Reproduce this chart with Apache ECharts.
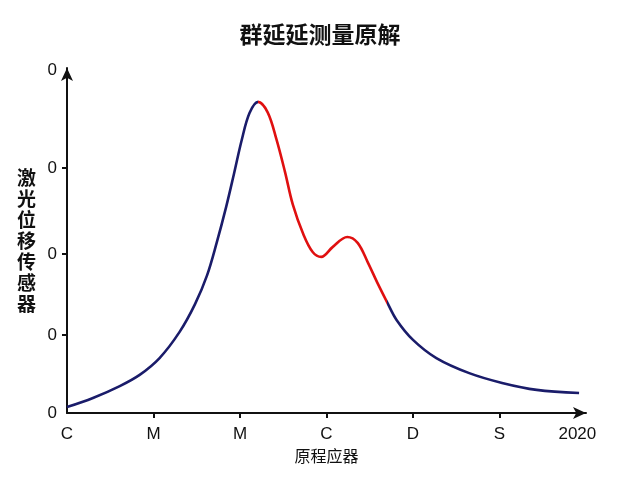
<!DOCTYPE html>
<html>
<head>
<meta charset="utf-8">
<script src="https://cdn.jsdelivr.net/npm/echarts@6/dist/echarts.min.js"></script>
<style>html,body{margin:0;padding:0;background:#fff;}#c{width:640px;height:480px;}</style>
</head>
<body>
<div id="c"></div>
<script>
var titleText = '群延延测量原解';
var yName = '激光位移传感器';
var xName = '原程应器';
var xCategories = ['C', 'M', 'M', 'C', 'D', 'S', '2020'];
var xLabelPositions = [0, 1, 2, 3, 4, 5, 5.9];
var xTickPositions = [1, 2, 3, 4, 5];
var yLabelPositions = [0, 22.3, 45.4, 70, 98];
var yTickPositions = [22.3, 45.4, 70];
var yTickLabel = '0';
var xs = [0, 0.30, 0.61, 0.84, 1.07, 1.30, 1.48, 1.62, 1.73, 1.84, 1.93, 2.02, 2.11, 2.21,
          2.32, 2.42, 2.52, 2.61, 2.73, 2.84, 2.94, 3.07, 3.24, 3.36, 3.48, 3.59, 3.70,
          3.81, 4.0, 4.27, 4.65, 5.03, 5.43, 5.92];
var ys = [1.7, 4.3, 7.7, 10.9, 15.7, 23.1, 31.1, 39.4, 48.6, 58.9, 68.3, 78.0, 85.7, 88.9,
          85.9, 78.3, 68.9, 59.6, 51.2, 46.0, 44.6, 47.4, 50.3, 48.6, 42.9, 37.1, 31.7,
          26.6, 20.9, 15.7, 11.4, 8.6, 6.6, 5.7];
var redStart = 2.21, redEnd = 3.70;

var data = xs.map(function (x, i) { return [x, ys[i]]; });
var navy = '#1a1c6a', red = '#e01010';
var chart = echarts.init(document.getElementById('c'));
chart.setOption({
  animation: false,
  backgroundColor: '#fff',
  title: {
    text: titleText, left: 'center', top: 18,
    textStyle: { fontSize: 23, fontWeight: 'bold', color: '#111', fontFamily: 'Noto Sans CJK SC' }
  },
  grid: { left: 67, right: 54, top: 68, bottom: 67 },
  xAxis: {
    type: 'value', min: 0, max: 6,
    name: xName, nameLocation: 'middle', nameGap: 34,
    nameTextStyle: { fontSize: 16, color: '#111', fontFamily: 'Noto Sans CJK SC' },
    splitLine: { show: false },
    axisLine: { show: true, lineStyle: { color: '#111', width: 2 }, symbol: ['none', 'arrow'], symbolSize: [9, 13] },
    axisTick: { show: true, customValues: xTickPositions, length: 5, lineStyle: { color: '#111', width: 2 } },
    axisLabel: {
      customValues: xLabelPositions, margin: 13,
      fontSize: 17, color: '#111', fontFamily: 'Liberation Sans',
      formatter: function (v) { return xCategories[Math.round(v)]; }
    }
  },
  yAxis: {
    type: 'value', min: 0, max: 98.57,
    name: yName.split('').join('\n'), nameLocation: 'middle', nameRotate: 0, nameGap: 31,
    nameTextStyle: { fontSize: 19, lineHeight: 21, fontWeight: 'bold', color: '#111', fontFamily: 'Noto Sans CJK SC' },
    splitLine: { show: false },
    axisLine: { show: true, lineStyle: { color: '#111', width: 2 }, symbol: ['none', 'arrow'], symbolSize: [9, 13] },
    axisTick: { show: true, customValues: yTickPositions, length: 5, lineStyle: { color: '#111', width: 2 } },
    axisLabel: {
      customValues: yLabelPositions, margin: 10,
      fontSize: 17, color: '#111', fontFamily: 'Liberation Sans',
      formatter: function () { return yTickLabel; }
    }
  },
  visualMap: {
    show: false, type: 'piecewise', dimension: 0, seriesIndex: 0,
    pieces: [
      { lt: redStart, color: navy },
      { gte: redStart, lte: redEnd, color: red },
      { gt: redEnd, color: navy }
    ]
  },
  series: [{
    type: 'line', data: data, smooth: 0.35, showSymbol: false, symbol: 'none',
    lineStyle: { width: 2.6 }
  }]
});
</script>
</body>
</html>
